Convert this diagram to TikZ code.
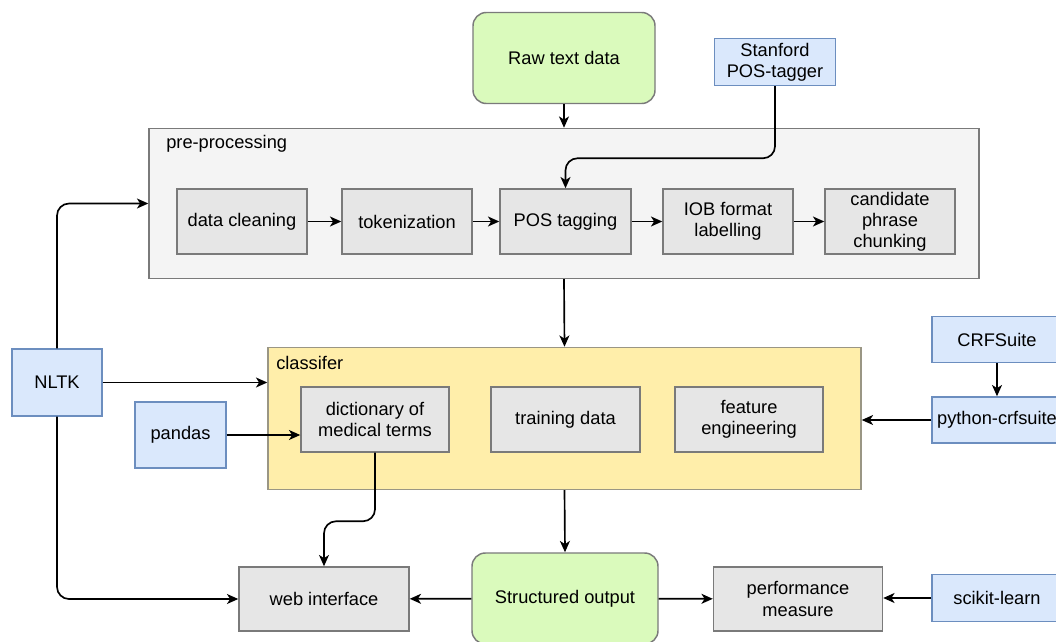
\documentclass[tikz,border=0pt]{standalone}
\usepackage{fontspec}
\setmainfont{Liberation Sans}
\usetikzlibrary{arrows.meta,calc}

\definecolor{greenfill}{RGB}{218,250,188}
\definecolor{bluefill}{HTML}{DAE8FC}
\definecolor{blueline}{HTML}{6C8EBF}
\definecolor{grayfill}{HTML}{E6E6E6}
\definecolor{grayline}{HTML}{7A7A7A}
\definecolor{panelfill}{HTML}{F4F4F4}
\definecolor{yellowfill}{RGB}{255,238,170}
\definecolor{yellowline}{HTML}{9A9684}

\tikzset{
  sz/.style 2 args={minimum width=#1*0.75pt, minimum height=#2*0.75pt},
  base/.style={draw, line width=1.1pt, inner sep=0pt, align=center,
    font=\fontsize{13.7}{15.9}\selectfont},
  startbox/.style={base, fill=greenfill, draw=grayline, rounded corners=10pt},
  toolbox/.style={base, fill=bluefill, draw=blueline},
  stepbox/.style={base, fill=grayfill, draw=grayline},
  panel/.style={base, fill=panelfill, draw=grayline},
  yellowpanel/.style={base, fill=yellowfill, draw=yellowline},
  paneltitle/.style={inner sep=0pt, anchor=west, font=\fontsize{13.7}{15.9}\selectfont},
  conn/.style={line width=1.25pt, -{Stealth[length=8.5pt,width=7.5pt,inset=2.4pt]}},
}

\begin{document}
\begin{tikzpicture}[x=0.75pt,y=-0.75pt]
\useasboundingbox (0,0) rectangle (1056,642);
\clip (0,0) rectangle (1056,642);

% containers
\node[panel, sz={830}{150}] (pre) at (564,203.5) {};
\node[paneltitle] (prelbl) at (166,144) {pre-processing};
\node[yellowpanel, sz={593}{142}] (cls) at (564.5,418.5) {};
\node[paneltitle] (clslbl) at (276,363) {classifer};

% sources and outputs
\node[startbox, sz={182}{91}] (raw) at (564,58) {Raw text data};
\node[startbox, sz={186}{91}] (out) at (565,598.5) {Structured output};

% tools
\node[toolbox, sz={121}{47}] (stan) at (775,62) {Stanford\\POS-tagger};
\node[toolbox, sz={90}{67}] (nltk) at (57,382.5) {NLTK};
\node[toolbox, sz={91}{66}] (pandas) at (180.5,435) {pandas};
\node[toolbox, sz={130}{46}] (crf) at (997,339.5) {CRFSuite};
\node[toolbox, sz={130}{46}] (pycrf) at (997,420) {python-crfsuite};
\node[toolbox, sz={130}{47}] (sk) at (997,598) {scikit-learn};

% pre-processing steps
\node[stepbox, sz={130}{65}] (clean) at (242,221.5) {data cleaning};
\node[stepbox, sz={130}{65}] (tok) at (407,221.5) {tokenization};
\node[stepbox, sz={131}{65}] (pos) at (565.5,221.5) {POS tagging};
\node[stepbox, sz={130}{65}] (iob) at (728,221.5) {IOB format\\labelling};
\node[stepbox, sz={130}{65}] (chunk) at (890,221.5) {candidate\\phrase\\chunking};

% classifier parts
\node[stepbox, sz={148}{65}] (dict) at (375,419.5) {dictionary of\\medical terms};
\node[stepbox, sz={149}{65}] (train) at (565.5,419.5) {training data};
\node[stepbox, sz={148}{65}] (feat) at (749,419.5) {feature\\engineering};

% evaluation and interface
\node[stepbox, sz={170}{64}] (web) at (324,599) {web interface};
\node[stepbox, sz={169}{64}] (perf) at (798,599) {performance\\measure};

% connectors
\draw[conn] (raw.south) -- (pre.north);
\draw[conn, rounded corners=9pt] (stan.south) |- ($(pos.north)+(0,-30)$) -- (pos.north);
\draw[conn] (clean) -- (tok);
\draw[conn] (tok) -- (pos);
\draw[conn] (pos) -- (iob);
\draw[conn] (iob) -- (chunk);
\draw[conn] (pre.south) -- (cls.north);
\draw[conn, rounded corners=9pt] (nltk.north) |- (pre.west);
\draw[conn] (nltk.east) -- (nltk.east -| cls.west);
\draw[conn, rounded corners=9pt] (nltk.south) |- (web.west);
\draw[conn] (pandas.east) -- (pandas.east -| dict.west);
\draw[conn] (crf) -- (pycrf);
\draw[conn] (pycrf.west) -- (pycrf.west -| cls.east);
\draw[conn, rounded corners=9pt] (dict.south) |- ($(web.north)+(0,-45)$) -- (web.north);
\draw[conn] (cls.south) -- (out.north);
\draw[conn] (out) -- (web);
\draw[conn] (out) -- (perf);
\draw[conn] (sk.west) -- (sk.west -| perf.east);
\end{tikzpicture}
\end{document}
